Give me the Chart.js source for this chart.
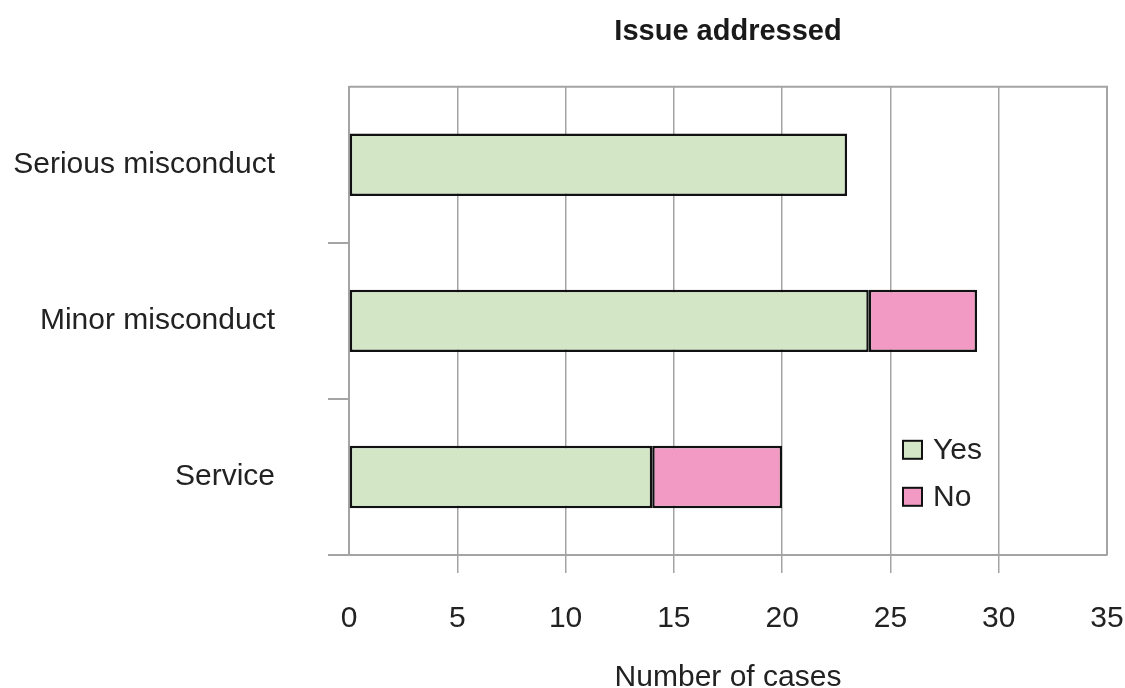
<!DOCTYPE html>
<html>
<head>
<meta charset="utf-8">
<script src="https://cdn.jsdelivr.net/npm/chart.js@4.4.1/dist/chart.umd.min.js"></script>
<style>
  html, body { margin: 0; padding: 0; background: #fff; }
  #wrap { width: 1125px; height: 688px; }
</style>
</head>
<body>
<div id="wrap"><canvas id="myChart" width="1125" height="688"></canvas></div>
<script>
const categories = ['Serious misconduct', 'Minor misconduct', 'Service'];
const yesCases = [23, 24, 14];
const noCases = [0, 5, 6];
const xTicks = [0, 5, 10, 15, 20, 25, 30, 35];

const gridColor = '#a4a4a4';
const textColor = '#222';
const font = 'Liberation Sans, Arial, sans-serif';

// top and right border of the plot frame plus the little legend inside the plot
const framePlugin = {
    id: 'frame',
    afterDraw(chart) {
        const ctx = chart.ctx;
        const area = chart.chartArea;
        ctx.save();
        ctx.strokeStyle = gridColor;
        ctx.lineWidth = 2;
        ctx.beginPath();
        ctx.moveTo(area.left, area.top);
        ctx.lineTo(area.right, area.top);
        ctx.lineTo(area.right, area.bottom);
        ctx.stroke();

        let x = area.right - 204;
        let y = area.top + 354;
        ctx.font = '30px ' + font;
        ctx.textBaseline = 'middle';
        chart.data.datasets.forEach((ds) => {
            ctx.fillStyle = ds.backgroundColor;
            ctx.fillRect(x, y, 19, 18);
            ctx.strokeStyle = '#111';
            ctx.lineWidth = 2;
            ctx.strokeRect(x, y, 19, 18);
            ctx.fillStyle = textColor;
            ctx.fillText(ds.label, x + 30, y + 10);
            y += 47;
        });
        ctx.restore();
    }
};

const ctx = document.getElementById('myChart').getContext('2d');
const myChart = new Chart(ctx, {
    type: 'bar',
    data: {
        labels: categories,
        datasets: [
            {
                label: 'Yes',
                data: yesCases,
                backgroundColor: '#d3e7c7',
                borderColor: '#111',
                borderWidth: 2.5,
                borderSkipped: false
            },
            {
                label: 'No',
                data: noCases,
                backgroundColor: '#f29ac3',
                borderColor: '#111',
                borderWidth: 2.5,
                borderSkipped: false
            }
        ]
    },
    options: {
        indexAxis: 'y',
        responsive: false,
        animation: false,
        categoryPercentage: 1,
        barPercentage: 0.4,
        layout: { padding: { top: 0, right: 18, left: 0, bottom: 0 } },
        plugins: {
            legend: { display: false },
            tooltip: { enabled: false },
            title: {
                display: true,
                text: 'Issue addressed',
                fullSize: false,
                color: '#1a1a1a',
                font: { family: font, size: 29, weight: 'bold', lineHeight: 1.2 },
                padding: { top: 15, bottom: 37 }
            }
        },
        scales: {
            x: {
                stacked: true,
                min: 0,
                max: 35,
                afterBuildTicks(scale) {
                    scale.ticks = xTicks.map(v => ({ value: v }));
                },
                afterFit(scale) {
                    scale.height = 133;
                    scale.paddingLeft = 0;
                    scale.paddingRight = 0;
                },
                grid: {
                    // the outer lines come from the frame, so no tick hangs below them
                    color: (c) => (c.index === 0 || c.index === xTicks.length - 1) ? 'rgba(0,0,0,0)' : gridColor,
                    lineWidth: 1.5,
                    tickLength: 18
                },
                border: { display: true, color: gridColor, width: 2 },
                ticks: {
                    color: textColor,
                    padding: 28,
                    font: { family: font, size: 30 }
                },
                title: {
                    display: true,
                    text: 'Number of cases',
                    color: textColor,
                    font: { family: font, size: 30 },
                    padding: { top: 0, bottom: -8 }
                }
            },
            y: {
                stacked: true,
                afterFit(scale) { scale.width = 349; },
                grid: {
                    offset: true,
                    drawOnChartArea: false,
                    tickLength: 21,
                    lineWidth: 2,
                    color: (c) => c.index === 0 ? 'rgba(0,0,0,0)' : gridColor
                },
                border: { display: true, color: gridColor, width: 2 },
                ticks: {
                    color: textColor,
                    padding: 53,
                    font: { family: font, size: 30 }
                }
            }
        }
    },
    plugins: [framePlugin]
});
</script>
</body>
</html>
